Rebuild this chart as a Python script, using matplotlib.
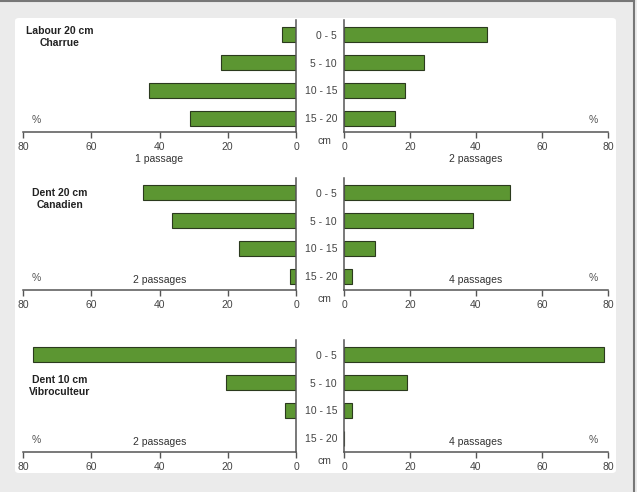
import matplotlib.pyplot as plt
from matplotlib.patches import FancyBboxPatch
from matplotlib.lines import Line2D

plt.rcParams['font.family'] = ['Liberation Sans', 'DejaVu Sans']

depths = ['0 - 5', '5 - 10', '10 - 15', '15 - 20']
titles = ['Labour 20 cm\nCharrue', 'Dent 20 cm\nCanadien', 'Dent 10 cm\nVibroculteur']
left_labels = ['1 passage', '2 passages', '2 passages']
right_labels = ['2 passages', '4 passages', '4 passages']

labour_left = [4, 22, 43, 31]
labour_right = [43.3, 24.3, 18.4, 15.5]
canadien_left = [44.8, 36.2, 16.7, 1.8]
canadien_right = [50.3, 39.2, 9.3, 2.5]
vibro_left = [77, 20.5, 3.2, 0]
vibro_right = [78.9, 19, 2.3, 0]

left_vals = [labour_left, canadien_left, vibro_left]
right_vals = [labour_right, canadien_right, vibro_right]

W, H = 637, 492
green = '#5c9632'
edge = '#2b3a1e'
axc = '#555555'
txt = '#333333'

fig = plt.figure(figsize=(W / 100, H / 100), dpi=100, facecolor='#ebebeb')

# white panel + frame lines
fig.patches.append(FancyBboxPatch((15 / W, 1 - 473 / H), 601 / W, 455 / H,
                                  boxstyle='round,pad=0,rounding_size=0.006',
                                  transform=fig.transFigure, fc='white', ec='none', zorder=-2))
fig.lines.append(Line2D([0, 634 / W], [1 - 1 / H, 1 - 1 / H], transform=fig.transFigure,
                        color='#777777', lw=1.5, zorder=-1))
fig.lines.append(Line2D([634 / W, 634 / W], [0, 1], transform=fig.transFigure,
                        color='#777777', lw=1.5, zorder=-1))


def fax(x0, x1, ytop, ybot):
    return fig.add_axes([x0 / W, 1 - ybot / H, (x1 - x0) / W, (ybot - ytop) / H])


rows = [(20, 132), (178, 290), (340, 452)]
pos = list(range(len(depths)))

for i, (yt, yb) in enumerate(rows):
    axl = fax(23, 296, yt, yb)
    axr = fax(344, 608, yt, yb)
    for ax in (axl, axr):
        ax.set_facecolor('none')
        ax.set_ylim(3.5, -0.53)
        ax.spines['top'].set_visible(False)
        ax.spines['bottom'].set_color(axc)
        ax.spines['bottom'].set_linewidth(1.1)
        ax.set_xticks([0, 20, 40, 60, 80])
        ax.tick_params(axis='x', direction='out', length=4, width=1, color=axc,
                       labelsize=7.5, labelcolor='#444444', pad=3)
        ax.tick_params(axis='y', length=0)
    axl.barh(pos, left_vals[i], height=0.54, color=green, edgecolor=edge, linewidth=0.8)
    axr.barh(pos, right_vals[i], height=0.54, color=green, edgecolor=edge, linewidth=0.8)
    axl.set_xlim(80, 0)
    axr.set_xlim(0, 80)
    axl.spines['left'].set_visible(False)
    axl.spines['right'].set_color(axc)
    axl.spines['right'].set_linewidth(1.1)
    axl.set_yticks([])
    axr.spines['right'].set_visible(False)
    axr.spines['left'].set_color(axc)
    axr.spines['left'].set_linewidth(1.1)
    axr.set_yticks(pos)
    axr.set_yticklabels(depths, fontsize=7.5, color='#444444')
    axr.tick_params(axis='y', pad=5)

    axl.text(0.048, 0.107, '%', transform=axl.transAxes, fontsize=7.5, color='#555555',
             ha='center', va='center')
    axr.text(0.943, 0.107, '%', transform=axr.transAxes, fontsize=7.5, color='#555555',
             ha='center', va='center')

    if i == 0:
        axl.set_xlabel(left_labels[i], fontsize=7.5, color=txt, labelpad=2)
        axr.set_xlabel(right_labels[i], fontsize=7.5, color=txt, labelpad=2)
    else:
        axl.text(0.5, 0.09, left_labels[i], transform=axl.transAxes, fontsize=7.5,
                 color=txt, ha='center', va='center')
        axr.text(0.5, 0.09, right_labels[i], transform=axr.transAxes, fontsize=7.5,
                 color=txt, ha='center', va='center')

    fig.text(324 / W, 1 - (yb + 9) / H, 'cm', fontsize=7.5, color='#444444',
             ha='center', va='center')

title_y = [37, 199, 386]
for t, ty in zip(titles, title_y):
    fig.text(60 / W, 1 - ty / H, t, fontsize=7.5, fontweight='bold', color='#222222',
             ha='center', va='center', linespacing=1.25)

fig.savefig('out.png', dpi=100, facecolor=fig.get_facecolor())
